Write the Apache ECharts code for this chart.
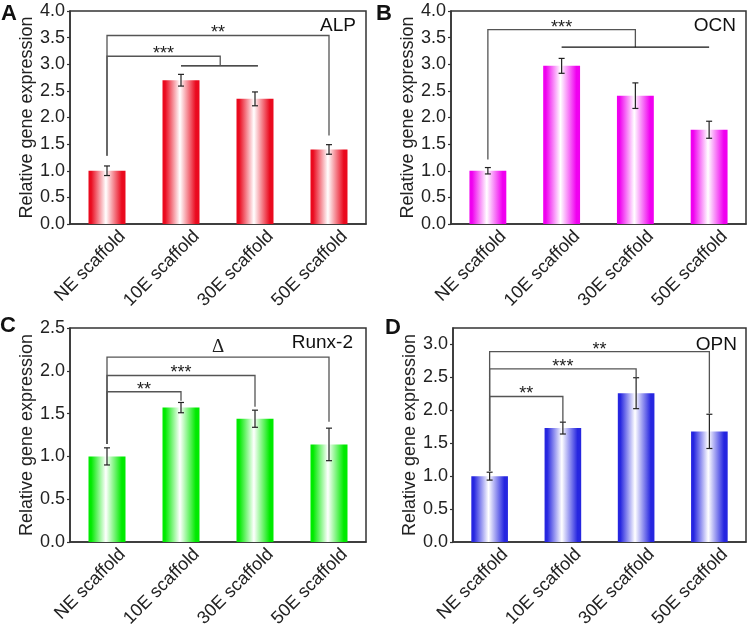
<!DOCTYPE html>
<html>
<head>
<meta charset="utf-8">
<script src="https://cdn.jsdelivr.net/npm/echarts@6/dist/echarts.min.js"></script>
<style>
  html, body { margin: 0; padding: 0; background: #fff; }
  #chart { width: 750px; height: 628px; }
</style>
</head>
<body>
<div id="chart"></div>
<script>
// categories shared by all four panels
const categories = ["NE scaffold", "10E scaffold", "30E scaffold", "50E scaffold"];

// mean relative expression and error (SD) for each gene
const alpMean = [1.0, 2.70, 2.35, 1.40];
const alpErr = [0.09, 0.11, 0.13, 0.09];
const ocnMean = [1.0, 2.97, 2.41, 1.77];
const ocnErr = [0.06, 0.14, 0.24, 0.16];
const runxMean = [1.0, 1.57, 1.44, 1.14];
const runxErr = [0.10, 0.06, 0.10, 0.19];
const opnMean = [1.0, 1.73, 2.26, 1.68];
const opnErr = [0.06, 0.09, 0.235, 0.26];

// significance brackets: [fromCat, toCat, topValue, leftEnd, rightEnd, label]
const alpBrackets = [
  [0, 3, 3.54, 1.28, 1.66, "**"],
  [0, 1.53, 3.15, 1.28, 2.97, "***"],
];
const ocnBrackets = [[0, 2, 3.65, 1.21, 3.32, "***"]];
const runxBrackets = [
  [0, 3, 2.16, 1.146, 1.405, "\u0394"],
  [0, 2, 1.945, 1.146, 1.58, "***"],
  [0, 1, 1.755, 1.146, 1.65, "**"],
];
const opnBrackets = [
  [0, 3, 2.89, 1.08, 1.95, "**"],
  [0, 2, 2.63, 1.08, 2.5, "***"],
  [0, 1, 2.21, 1.08, 1.82, "**"],
];
// group lines under a bracket end: [fromCat, toCat, value]
const alpGroups = [[1.0, 2.04, 2.97]];
const ocnGroups = [[1, 3, 3.32]];

// y axis ranges
const yMax = [4, 4, 2.5, 3.25];

const FONT = "Liberation Sans, Arial, sans-serif";
const AXIS_COLOR = "#333";

const chart = echarts.init(document.getElementById("chart"));

function barGradient(c) {
  return new echarts.graphic.LinearGradient(0, 0, 1, 0, [
    { offset: 0, color: c },
    { offset: 0.07, color: c },
    { offset: 0.47, color: "#ffffff" },
    { offset: 0.9, color: c },
    { offset: 1, color: c },
  ]);
}

// pixel x for a (possibly fractional) category index
function catX(api, v) {
  const i = Math.floor(v);
  const f = v - i;
  const p0 = api.coord([i, 0])[0];
  if (!f) return p0;
  const p1 = api.coord([i + 1, 0])[0];
  return p0 + (p1 - p0) * f;
}

function errorSeries(k, mean, err) {
  return {
    type: "custom",
    xAxisIndex: k,
    yAxisIndex: k,
    z: 5,
    data: mean.map((m, i) => [i, m - err[i], m + err[i]]),
    encode: { x: 0, y: [1, 2] },
    renderItem(params, api) {
      const lo = api.coord([api.value(0), api.value(1)]);
      const hi = api.coord([api.value(0), api.value(2)]);
      const w = 3;
      const style = { stroke: "#222", lineWidth: 1.2 };
      return {
        type: "group",
        children: [
          { type: "line", shape: { x1: hi[0], y1: hi[1], x2: lo[0], y2: lo[1] }, style },
          { type: "line", shape: { x1: hi[0] - w, y1: hi[1], x2: hi[0] + w, y2: hi[1] }, style },
          { type: "line", shape: { x1: lo[0] - w, y1: lo[1], x2: lo[0] + w, y2: lo[1] }, style },
        ],
      };
    },
  };
}

function bracketSeries(k, brackets, groups) {
  return {
    type: "custom",
    xAxisIndex: k,
    yAxisIndex: k,
    z: 6,
    silent: true,
    data: brackets.map((b) => [b[0], b[2]]),
    renderItem(params, api) {
      const b = brackets[params.dataIndex];
      const x0 = catX(api, b[0]);
      const x1 = catX(api, b[1]);
      const yTop = api.coord([0, b[2]])[1];
      const yL = api.coord([0, b[3]])[1];
      const yR = api.coord([0, b[4]])[1];
      const style = { stroke: "#555", lineWidth: 1.3, fill: null };
      const isDelta = b[5] === "\u0394";
      const children = [
        {
          type: "polyline",
          shape: { points: [[x0, yL], [x0, yTop], [x1, yTop], [x1, yR]] },
          style,
        },
        {
          type: "text",
          style: {
            x: (x0 + x1) / 2,
            y: isDelta ? yTop - 10 : yTop - 2,
            text: b[5],
            fill: "#222",
            font: isDelta ? "19px Liberation Serif, serif" : "18px " + FONT,
            align: "center",
            verticalAlign: "middle",
          },
        },
      ];
      if (params.dataIndex === 0) {
        groups.forEach((g) => {
          const gy = api.coord([0, g[2]])[1];
          children.push({
            type: "line",
            shape: { x1: catX(api, g[0]), y1: gy, x2: catX(api, g[1]), y2: gy },
            style: { stroke: "#111", lineWidth: 1.3 },
          });
        });
      }
      return { type: "group", children };
    },
  };
}

const grids = [
  { left: 70, top: 11, width: 296, height: 213 },
  { left: 451, top: 11, width: 295, height: 213 },
  { left: 70, top: 328, width: 296, height: 214 },
  { left: 453, top: 328, width: 293, height: 214 },
];

const colors = ["#ea0a1e", "#f000f0", "#00ea00", "#2626e0"];
const means = [alpMean, ocnMean, runxMean, opnMean];
const errs = [alpErr, ocnErr, runxErr, opnErr];
const bracketSets = [alpBrackets, ocnBrackets, runxBrackets, opnBrackets];
const groupSets = [alpGroups, ocnGroups, [], []];
const letters = ["A", "B", "C", "D"];
const genes = ["ALP", "OCN", "Runx-2", "OPN"];

const series = [];
means.forEach((m, k) => {
  series.push({
    type: "bar",
    xAxisIndex: k,
    yAxisIndex: k,
    data: m,
    barWidth: "50%",
    itemStyle: { color: barGradient(colors[k]) },
  });
  series.push(errorSeries(k, m, errs[k]));
  series.push(bracketSeries(k, bracketSets[k], groupSets[k]));
});

chart.setOption({
  backgroundColor: "#fff",
  animation: false,
  grid: grids.map((g) => ({
    ...g,
    show: true,
    outerBoundsMode: "none",
    borderColor: AXIS_COLOR,
    borderWidth: 1.5,
  })),
  xAxis: grids.map((g, k) => ({
    type: "category",
    gridIndex: k,
    data: categories,
    axisLine: { lineStyle: { color: AXIS_COLOR, width: 1.5 } },
    axisTick: { alignWithLabel: true, length: 4, lineStyle: { color: AXIS_COLOR, width: 1.2 } },
    axisLabel: {
      rotate: 45,
      fontSize: 18,
      fontFamily: FONT,
      color: "#222",
      margin: -6,
      verticalAlign: "top",
      padding: [13, 0, 0, 0],
      interval: 0,
    },
    splitLine: { show: false },
  })),
  yAxis: grids.map((g, k) => ({
    type: "value",
    gridIndex: k,
    min: 0,
    max: yMax[k],
    interval: 0.5,
    name: "Relative gene expression",
    nameLocation: "middle",
    nameGap: 34,
    nameTextStyle: { fontSize: 18, fontFamily: FONT, color: "#222" },
    axisLine: { show: true, lineStyle: { color: AXIS_COLOR, width: 1.5 } },
    axisTick: { show: true, length: 3, lineStyle: { color: AXIS_COLOR, width: 1.2 } },
    axisLabel: {
      fontSize: 18,
      fontFamily: FONT,
      color: "#222",
      margin: 5,
      showMaxLabel: k === 3 ? false : true,
      formatter: (v) => v.toFixed(1),
    },
    splitLine: { show: false },
  })),
  graphic: [
    ...letters.map((t, k) => ({
      type: "text",
      left: [1, 376, 0, 385][k],
      top: [3, 3, 315, 317][k],
      style: { text: t, font: "bold 22px " + FONT, fill: "#111" },
    })),
    ...genes.map((t, k) => ({
      type: "text",
      right: [394, 14, 397, 13][k],
      top: [16, 16, 333, 335][k],
      style: { text: t, font: "19px " + FONT, fill: "#111" },
    })),
  ],
  series,
});
</script>
</body>
</html>
